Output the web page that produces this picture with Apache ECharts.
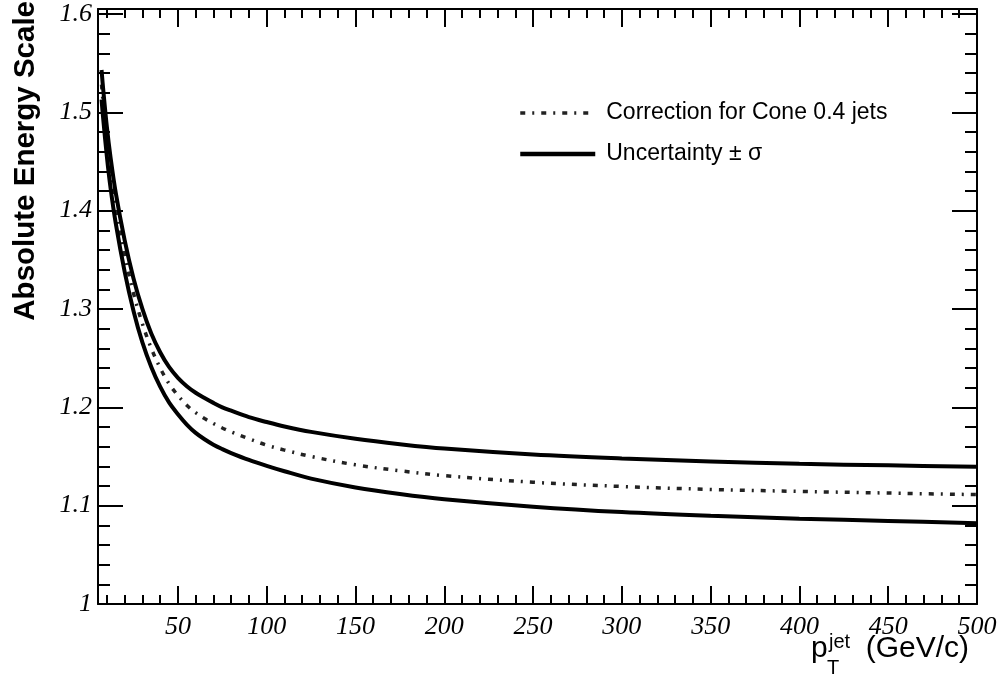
<!DOCTYPE html>
<html>
<head>
<meta charset="utf-8">
<title>Absolute Energy Scale</title>
<script src="https://cdn.jsdelivr.net/npm/echarts@6/dist/echarts.min.js"></script>
<style>
  html, body { margin: 0; padding: 0; background: #fff; }
  #chart { width: 1005px; height: 682px; }
</style>
</head>
<body>
<div id="chart"></div>
<script>
// Jet transverse momentum (GeV/c)
const ptValues = [7, 8, 10, 12, 15, 20, 25, 30, 35, 40, 45, 50, 55, 60, 65, 70, 75, 80, 90, 100, 110, 125, 150, 175, 200, 250, 300, 350, 400, 450, 500];

// Correction for Cone 0.4 jets (central curve)
const correction = [1.528, 1.507, 1.470, 1.440, 1.403, 1.355, 1.316, 1.285, 1.260, 1.240, 1.224, 1.212, 1.202, 1.1945, 1.1885, 1.1835, 1.179, 1.175, 1.168, 1.1615, 1.1565, 1.150, 1.1415, 1.1355, 1.1305, 1.1238, 1.1195, 1.1165, 1.1145, 1.1128, 1.1112];

// Upper edge of the uncertainty band (+sigma)
const upperBand = [1.543, 1.522, 1.485, 1.455, 1.418, 1.370, 1.331, 1.300, 1.275, 1.256, 1.241, 1.230, 1.2215, 1.2148, 1.2095, 1.2045, 1.200, 1.1965, 1.190, 1.185, 1.1805, 1.175, 1.168, 1.1625, 1.158, 1.152, 1.148, 1.145, 1.1425, 1.141, 1.1395];

// Lower edge of the uncertainty band (-sigma)
const lowerBand = [1.513, 1.492, 1.455, 1.424, 1.387, 1.338, 1.298, 1.266, 1.241, 1.221, 1.205, 1.193, 1.1825, 1.174, 1.1675, 1.162, 1.1575, 1.1535, 1.1465, 1.1405, 1.135, 1.1275, 1.1185, 1.1118, 1.1065, 1.0990, 1.0935, 1.0897, 1.0868, 1.0844, 1.0822];

// Axis tick labels
const xTickLabels = [50, 100, 150, 200, 250, 300, 350, 400, 450, 500];
const yTickLabels = [1, 1.1, 1.2, 1.3, 1.4, 1.5, 1.6];

const seriesNames = ['Correction for Cone 0.4 jets', 'Uncertainty \u00b1 \u03c3'];

const xMin = 5, xMax = 500;
const yMin = 1, yMax = 1.605;

// minor tick positions
const xMinorTicks = [];
for (let v = 10; v <= 500; v += 10) xMinorTicks.push(v);
const yMinorTicks = [];
for (let i = 0; i <= 30; i++) yMinorTicks.push(Math.round((1 + i * 0.02) * 1000) / 1000);

const pairs = (ys) => ptValues.map((x, i) => [x, ys[i]]);

const labelFont = { fontFamily: 'Liberation Serif', fontStyle: 'italic', fontSize: 26, color: '#000' };

const dashDot = [5, 7, 2, 7];

function xAxisDef(position, ticks, len, withLabels, withLine) {
  return {
    type: 'value', position, min: xMin, max: xMax,
    axisLine: { show: withLine, onZero: false, lineStyle: { color: '#000', width: 2 } },
    axisTick: { show: true, inside: true, length: len, customValues: ticks, lineStyle: { color: '#000', width: 2 } },
    axisLabel: withLabels
      ? Object.assign({ show: true, customValues: ticks, margin: 10 }, labelFont)
      : { show: false },
    splitLine: { show: false }
  };
}
function yAxisDef(position, ticks, len, withLabels, withLine) {
  return {
    type: 'value', position, min: yMin, max: yMax,
    axisLine: { show: withLine, onZero: false, lineStyle: { color: '#000', width: 2 } },
    axisTick: { show: true, inside: true, length: len, customValues: ticks, lineStyle: { color: '#000', width: 2 } },
    axisLabel: withLabels
      ? Object.assign({ show: true, customValues: ticks, margin: 6 }, labelFont)
      : { show: false },
    splitLine: { show: false }
  };
}

const chart = echarts.init(document.getElementById('chart'), null, { renderer: 'canvas' });

chart.setOption({
  animation: false,
  backgroundColor: '#fff',
  grid: { left: 98, right: 28, top: 9, bottom: 78, containLabel: false },
  xAxis: [
    xAxisDef('bottom', xTickLabels, 18, true, true),
    xAxisDef('bottom', xMinorTicks, 9, false, false),
    xAxisDef('top', xTickLabels, 18, false, true),
    xAxisDef('top', xMinorTicks, 9, false, false)
  ],
  yAxis: [
    yAxisDef('left', yTickLabels, 25, true, true),
    yAxisDef('left', yMinorTicks, 12, false, false),
    yAxisDef('right', yTickLabels, 25, false, true),
    yAxisDef('right', yMinorTicks, 12, false, false)
  ],
  legend: {
    left: 513, top: 96, orient: 'vertical',
    itemWidth: 75, itemHeight: 14, itemGap: 17,
    itemStyle: { opacity: 0 },
    data: [
      { name: seriesNames[0], lineStyle: { color: '#222', width: 3.5, type: dashDot } },
      { name: seriesNames[1], lineStyle: { color: '#000', width: 4.5, type: 'solid' } }
    ],
    textStyle: { fontFamily: 'Liberation Sans', fontSize: 23, color: '#000', lineHeight: 24, padding: [0, 0, 0, 6] }
  },
  series: [
    {
      name: seriesNames[0], type: 'line', data: pairs(correction),
      smooth: 0.35, symbol: 'none', z: 3, color: '#222',
      lineStyle: { color: '#222', width: 3.5, type: dashDot, cap: 'butt' }
    },
    {
      name: seriesNames[1], type: 'line', data: pairs(upperBand),
      smooth: 0.35, symbol: 'none', z: 4, color: '#000',
      lineStyle: { color: '#000', width: 4 }
    },
    {
      name: seriesNames[1], type: 'line', data: pairs(lowerBand),
      smooth: 0.35, symbol: 'none', z: 4, color: '#000',
      lineStyle: { color: '#000', width: 4 }
    }
  ],
  graphic: [
    {
      type: 'text', x: 26, y: 1, rotation: Math.PI / 2,
      style: {
        text: 'Absolute Energy Scale', fill: '#000',
        font: 'bold 29.5px "Liberation Sans"', textAlign: 'right', textVerticalAlign: 'middle'
      }
    },
    {
      type: 'text', x: 811, y: 664,
      style: { text: 'p', fill: '#000', font: '30px "Liberation Sans"', textAlign: 'left', textVerticalAlign: 'bottom' }
    },
    {
      type: 'text', x: 827, y: 678,
      style: { text: 'T', fill: '#000', font: '20px "Liberation Sans"', textAlign: 'left', textVerticalAlign: 'bottom' }
    },
    {
      type: 'text', x: 829, y: 652,
      style: { text: 'jet', fill: '#000', font: '20px "Liberation Sans"', textAlign: 'left', textVerticalAlign: 'bottom' }
    },
    {
      type: 'text', x: 969, y: 664,
      style: { text: '(GeV/c)', fill: '#000', font: '30px "Liberation Sans"', textAlign: 'right', textVerticalAlign: 'bottom' }
    }
  ]
});
</script>
</body>
</html>
